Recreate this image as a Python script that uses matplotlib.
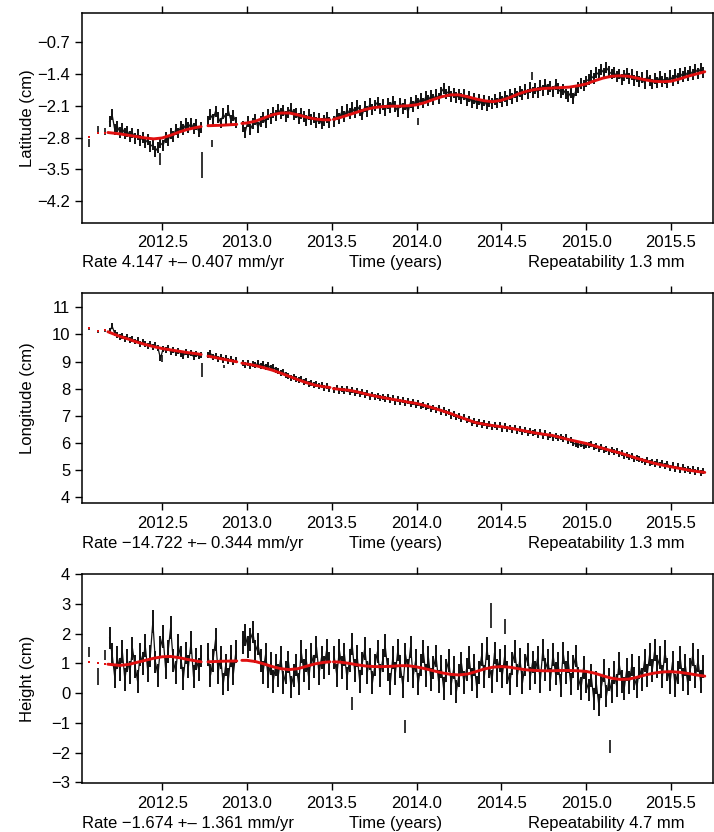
import numpy as np
import matplotlib
matplotlib.use('Agg')
import matplotlib.pyplot as plt

plt.rcParams['font.family'] = ['Liberation Sans', 'DejaVu Sans']
plt.rcParams['font.size'] = 12

# ---- daily solutions (every ~5.5 days), four data segments
STEP = 0.015
seg_start = [2012.19, 2012.77, 2012.975, 2013.515]

lat_A = [-2.45, -2.30, -2.62, -2.55, -2.68, -2.60, -2.72, -2.66, -2.78, -2.70,
         -2.82, -2.74, -2.86, -2.80, -2.92, -2.84, -3.00, -2.95, -3.10, -3.02,
         -2.92, -2.98, -2.80, -2.86, -2.72, -2.78, -2.62, -2.70, -2.55, -2.62,
         -2.50, -2.58, -2.48, -2.60, -2.52, -2.66, -2.58]
lat_B = [-2.45, -2.30, -2.40, -2.22, -2.35, -2.48, -2.28, -2.38, -2.20, -2.42, -2.32, -2.46]
lat_C = [-2.55, -2.68, -2.45, -2.62, -2.50, -2.40, -2.58, -2.44, -2.36, -2.48,
         -2.30, -2.38, -2.24, -2.32, -2.18, -2.28, -2.20, -2.34, -2.24, -2.16,
         -2.30, -2.26, -2.38, -2.28, -2.34, -2.42, -2.30, -2.40, -2.36, -2.46,
         -2.38, -2.50, -2.42, -2.36, -2.46]
lat_D = [-2.45, -2.30, -2.38, -2.22, -2.34, -2.18, -2.28, -2.14, -2.24, -2.10,
         -2.20, -2.30, -2.12, -2.22, -2.06, -2.18, -2.10, -2.02, -2.16, -2.08,
         -2.20, -2.06, -2.14, -2.00, -2.12, -2.22, -2.04, -2.16, -2.08, -2.24,
         -2.02, -2.12, -1.98, -2.06, -1.94, -2.04, -1.90, -1.98, -1.88, -1.96,
         -1.86, -1.94, -1.80, -1.72, -1.84, -1.78, -1.90, -1.82, -1.92, -1.86,
         -1.94, -1.86, -1.98, -1.90, -2.02, -1.94, -2.06, -1.96, -2.08, -1.98,
         -2.10, -2.00, -2.06, -1.96, -2.04, -1.92, -2.00, -1.90, -1.98, -1.86,
         -1.94, -1.82, -1.90, -1.78, -1.86, -1.74, -1.84, -1.70, -1.80, -1.72,
         -1.80, -1.66, -1.76, -1.62, -1.74, -1.68, -1.78, -1.64, -1.72, -1.80,
         -1.74, -1.84, -1.90, -1.80, -1.94, -1.76, -1.70, -1.60, -1.66, -1.56,
         -1.52, -1.44, -1.50, -1.36, -1.42, -1.30, -1.38, -1.26, -1.34, -1.40,
         -1.36, -1.46, -1.40, -1.52, -1.44, -1.38, -1.50, -1.42, -1.54, -1.46,
         -1.56, -1.48, -1.60, -1.44, -1.54, -1.62, -1.50, -1.58, -1.46, -1.56,
         -1.50, -1.58, -1.44, -1.54, -1.40, -1.50, -1.38, -1.46, -1.36, -1.44,
         -1.34, -1.42, -1.30, -1.38, -1.28, -1.36]

lon_A = [10.12, 10.30, 10.05, 9.98, 9.92, 9.96, 9.84, 9.90, 9.78, 9.82,
         9.74, 9.78, 9.66, 9.72, 9.64, 9.58, 9.66, 9.52, 9.60, 9.50,
         9.12, 9.46, 9.42, 9.50, 9.36, 9.44, 9.32, 9.40, 9.28, 9.22,
         9.34, 9.24, 9.30, 9.18, 9.28, 9.20, 9.24]
lon_B = [9.24, 9.30, 9.16, 9.22, 9.10, 9.18, 9.06, 9.14, 9.02, 9.10, 8.98, 9.04]
lon_C = [8.96, 8.88, 8.94, 8.84, 8.92, 8.86, 8.94, 8.82, 8.90, 8.80,
         8.86, 8.76, 8.78, 8.70, 8.64, 8.56, 8.60, 8.50, 8.46, 8.40,
         8.44, 8.34, 8.30, 8.36, 8.24, 8.28, 8.18, 8.22, 8.12, 8.16,
         8.08, 8.12, 8.02, 8.08, 8.00]
lon_D = [7.96, 8.04, 7.92, 8.00, 7.90, 7.98, 7.86, 7.94, 7.84, 7.90,
         7.80, 7.88, 7.76, 7.82, 7.70, 7.78, 7.68, 7.74, 7.64, 7.70,
         7.60, 7.68, 7.58, 7.64, 7.52, 7.62, 7.50, 7.56, 7.46, 7.54,
         7.42, 7.50, 7.38, 7.46, 7.34, 7.40, 7.30, 7.36, 7.24, 7.30,
         7.20, 7.28, 7.14, 7.20, 7.08, 7.12, 7.00, 7.06, 6.94, 6.98,
         6.88, 6.94, 6.82, 6.86, 6.74, 6.80, 6.70, 6.76, 6.64, 6.72,
         6.62, 6.70, 6.58, 6.66, 6.56, 6.64, 6.52, 6.60, 6.50, 6.56,
         6.48, 6.56, 6.44, 6.52, 6.40, 6.48, 6.36, 6.44, 6.34, 6.40,
         6.30, 6.38, 6.26, 6.34, 6.22, 6.30, 6.18, 6.26, 6.16, 6.22,
         6.14, 6.20, 6.06, 6.10, 5.98, 5.94, 5.90, 5.96, 5.86, 5.92,
         5.90, 5.96, 5.84, 5.88, 5.78, 5.84, 5.72, 5.78, 5.66, 5.72,
         5.64, 5.70, 5.58, 5.62, 5.52, 5.56, 5.46, 5.50, 5.40, 5.44,
         5.38, 5.34, 5.30, 5.36, 5.24, 5.30, 5.20, 5.28, 5.18, 5.24,
         5.14, 5.22, 5.08, 5.16, 5.04, 5.12, 5.00, 5.10, 4.98, 5.04,
         4.96, 5.02, 4.92, 4.98, 4.88, 4.94]

hgt_A = [1.85, 1.30, 0.55, 1.20, 0.80, 1.40, 0.45, 1.10, 0.70, 1.50,
         0.90, 0.40, 1.30, 1.00, 1.60, 0.75, 1.25, 2.40, 1.05, 0.60,
         1.55, 1.90, 0.85, 1.40, 2.20, 1.10, 0.70, 1.60, 1.20, 0.50,
         1.35, 0.90, 1.70, 0.55, 1.15, 0.80, 1.25]
hgt_B = [1.30, 0.60, 1.10, 1.80, 0.70, 1.20, 0.30, 0.95, 0.45, 1.25, 0.65, 1.40]
hgt_C = [1.70, 1.95, 1.55, 1.80, 2.05, 1.40, 1.65, 1.10, 0.70, 1.30,
         0.55, 1.00, 0.40, 0.95, 0.60, 1.20, 0.35, 0.70, 1.05, 0.20,
         0.60, 0.95, 0.30, 1.40, 0.75, 1.10, 0.50, 1.30, 0.90, 1.55,
         0.65, 1.20, 0.85, 1.45, 1.00]
hgt_D = [1.20, 0.60, 1.45, 0.85, 1.30, 0.50, 1.10, 1.65, 0.75, 1.25,
         0.40, 1.00, 1.50, 0.70, 1.15, 0.35, 0.95, 1.40, 0.60, 1.10,
         1.60, 0.80, 0.30, 1.20, 0.65, 1.45, 0.90, 0.20, 1.30, 0.75,
         1.55, 0.55, 1.10, 0.30, 0.95, 1.40, 0.60, 1.20, 0.45, 0.85,
         1.25, 0.40, 0.90, 0.15, 0.75, 1.10, 0.30, 0.85, 0.05, 0.60,
         1.00, 0.35, 0.80, 1.20, 0.45, 0.95, 0.20, 0.70, 1.30, 0.55,
         1.50, 0.90, 0.40, 1.35, 0.75, 1.10, 0.55, 1.25, 0.70, 0.30,
         1.00, 1.40, 0.60, 1.15, 0.35, 0.95, 1.30, 0.50, 1.05, 0.70,
         1.20, 0.40, 1.45, 0.80, 1.10, 0.45, 1.30, 0.65, 1.00, 0.25,
         1.35, 0.70, 1.05, 0.30, 0.90, 1.25, 0.50, 0.15, 0.85, 0.40,
         0.10, 0.60, -0.20, 0.35, -0.40, 0.20, 0.75, -0.10, 0.45, 0.05,
         0.70, 0.25, 1.00, 0.40, 0.15, 0.80, 0.35, 0.95, 0.50, 0.20,
         0.85, 0.45, 1.10, 0.60, 1.30, 0.75, 1.45, 0.90, 1.20, 0.55,
         1.40, 0.80, 0.35, 1.05, 0.25, 0.70, 1.20, 0.45, 0.95, 0.30,
         0.80, 1.30, 0.55, 1.10, 0.40, 0.90]

# formal errors (half length of the bars), cm
lat_sig, lon_sig, hgt_sig = 0.12, 0.11, 0.38

# isolated epochs: early points and outliers (time, value, half error)
lat_extra = [(2012.07, -2.92, 0.08), (2012.123, -2.64, 0.09), (2012.16, -2.67, 0.07),
             (2012.49, -3.27, 0.13), (2012.736, -3.40, 0.29), (2012.795, -2.93, 0.08),
             (2014.006, -2.45, 0.07), (2014.68, -1.44, 0.09)]
lon_extra = [(2012.07, 10.22, 0.05), (2012.123, 10.12, 0.05), (2012.16, 10.14, 0.05),
             (2012.50, 9.12, 0.12), (2012.736, 8.70, 0.26), (2012.862, 8.82, 0.06)]
hgt_extra = [(2012.07, 1.39, 0.17), (2012.123, 0.55, 0.28), (2012.16, 1.28, 0.17),
             (2013.617, -0.35, 0.22), (2013.935, -1.12, 0.22), (2014.44, 2.60, 0.42),
             (2014.52, 2.25, 0.25), (2015.14, -1.79, 0.21)]

# model evaluated at the early epochs (drawn as red dots)
early_t = [2012.07, 2012.123, 2012.16]
lat_early_model = [-2.79, -2.70, -2.69]
lon_early_model = [10.24, 10.13, 10.15]
hgt_early_model = [1.05, 1.02, 0.99]

# ---- fitted model (red), knots per segment
mod_t_A = [2012.18, 2012.25, 2012.30, 2012.35, 2012.40, 2012.45, 2012.50, 2012.55,
           2012.60, 2012.65, 2012.70, 2012.73]
mod_t_B = [2012.77, 2012.85, 2012.94]
mod_t_C = [2012.97, 2013.00, 2013.05, 2013.10, 2013.15, 2013.20, 2013.25, 2013.30,
           2013.35, 2013.40, 2013.45, 2013.49]
mod_t_D = [2013.51] + list(np.round(np.arange(2013.55, 2015.701, 0.05), 2))

lat_mod = [[-2.69, -2.72, -2.75, -2.78, -2.81, -2.83, -2.81, -2.75, -2.68, -2.62, -2.58, -2.56],
           [-2.54, -2.53, -2.51],
           [-2.49, -2.48, -2.44, -2.37, -2.30, -2.26, -2.26, -2.30, -2.35, -2.39, -2.41, -2.41],
           [-2.40, -2.36, -2.30, -2.24, -2.18, -2.14, -2.12, -2.11, -2.11, -2.10, -2.08,
            -2.03, -1.96, -1.90, -1.86, -1.86, -1.90, -1.95, -1.99, -2.01, -1.98,
            -1.92, -1.84, -1.78, -1.74, -1.72, -1.71, -1.70, -1.69, -1.66, -1.62,
            -1.55, -1.49, -1.45, -1.44, -1.45, -1.49, -1.53, -1.56, -1.57, -1.56,
            -1.51, -1.45, -1.40, -1.35]]
lon_mod = [[10.10, 9.93, 9.83, 9.72, 9.63, 9.55, 9.48, 9.43, 9.38, 9.33, 9.29, 9.26],
           [9.20, 9.10, 8.99],
           [8.94, 8.91, 8.85, 8.77, 8.68, 8.57, 8.45, 8.33, 8.22, 8.13, 8.07, 8.04],
           [8.00, 7.97, 7.94, 7.88, 7.80, 7.73, 7.67, 7.61, 7.56, 7.50, 7.45,
            7.37, 7.28, 7.18, 7.08, 6.96, 6.85, 6.74, 6.68, 6.63, 6.59,
            6.54, 6.48, 6.42, 6.36, 6.31, 6.27, 6.19, 6.11, 6.04, 5.97,
            5.88, 5.79, 5.70, 5.62, 5.52, 5.42, 5.33, 5.24, 5.17, 5.11,
            5.05, 4.99, 4.94, 4.90]]
hgt_mod = [[0.97, 0.93, 0.96, 1.03, 1.10, 1.17, 1.22, 1.23, 1.19, 1.13, 1.08, 1.05],
           [1.05, 1.07, 1.08],
           [1.10, 1.10, 1.06, 0.98, 0.89, 0.82, 0.79, 0.82, 0.90, 0.98, 1.03, 1.05],
           [1.05, 1.04, 1.00, 0.95, 0.91, 0.89, 0.89, 0.90, 0.92, 0.92, 0.88,
            0.82, 0.75, 0.68, 0.63, 0.61, 0.64, 0.72, 0.81, 0.87, 0.89,
            0.87, 0.82, 0.78, 0.76, 0.75, 0.75, 0.76, 0.76, 0.75, 0.73,
            0.67, 0.58, 0.50, 0.46, 0.47, 0.53, 0.61, 0.67, 0.71, 0.72,
            0.70, 0.66, 0.61, 0.57]]

xtick_vals = [2012.5, 2013.0, 2013.5, 2014.0, 2014.5, 2015.0, 2015.5]

panels = [
    dict(ylabel='Latitude (cm)', segs=[lat_A, lat_B, lat_C, lat_D], sig=lat_sig,
         extra=lat_extra, early=lat_early_model, model=lat_mod,
         ylim=(-4.684, -0.055), yticks=[-4.2, -3.5, -2.8, -2.1, -1.4, -0.7],
         rate='Rate 4.147 +\u2013 0.407 mm/yr', rep='Repeatability 1.3 mm'),
    dict(ylabel='Longitude (cm)', segs=[lon_A, lon_B, lon_C, lon_D], sig=lon_sig,
         extra=lon_extra, early=lon_early_model, model=lon_mod,
         ylim=(3.756, 11.52), yticks=[4, 5, 6, 7, 8, 9, 10, 11],
         rate='Rate \u221214.722 +\u2013 0.344 mm/yr', rep='Repeatability 1.3 mm'),
    dict(ylabel='Height (cm)', segs=[hgt_A, hgt_B, hgt_C, hgt_D], sig=hgt_sig,
         extra=hgt_extra, early=hgt_early_model, model=hgt_mod,
         ylim=(-3.03, 4.0), yticks=[-3, -2, -1, 0, 1, 2, 3, 4],
         rate='Rate \u22121.674 +\u2013 1.361 mm/yr', rep='Repeatability 4.7 mm'),
]

# axes boxes in figure fraction: left, bottom, width, height
boxes = [(0.1148, 0.732, 0.8832, 0.2524),
         (0.1148, 0.395, 0.8832, 0.2524),
         (0.1148, 0.0585, 0.8832, 0.2516)]

fig = plt.figure(figsize=(7.14, 8.32), dpi=100)

for p, box in zip(panels, boxes):
    ax = fig.add_axes(box)
    # error bars of the daily solutions, joined so the series reads as a band
    for start, vals in zip(seg_start, p['segs']):
        t = start + STEP * np.arange(len(vals))
        v = np.array(vals)
        ax.vlines(t, v - p['sig'], v + p['sig'], color='#111111', lw=1.4, zorder=2)
        ax.plot(t, v, color='#111111', lw=0.9, zorder=2)
    et, ev, ee = np.array(p['extra']).T
    ax.vlines(et, ev - ee, ev + ee, color='#111111', lw=1.2, zorder=2)
    # model curve, broken at the data gaps
    mt, mv = [], []
    for tt, vv in zip([mod_t_A, mod_t_B, mod_t_C, mod_t_D], p['model']):
        mt += list(tt) + [np.nan]
        mv += list(vv) + [np.nan]
    ax.plot(mt, mv, color='#e01010', lw=2.1, zorder=3, solid_capstyle='round')
    ax.plot(early_t, p['early'], ls='none', marker='s', ms=2.0, mew=0,
            color='#e01010', zorder=3)

    ax.set_xlim(2012.027, 2015.746)
    ax.set_ylim(*p['ylim'])
    ax.set_xticks(xtick_vals)
    ax.set_xticklabels(['%.1f' % v for v in xtick_vals])
    ax.set_yticks(p['yticks'])
    ax.tick_params(axis='x', top=True, bottom=True, labeltop=False,
                   direction='out', length=5, width=1, pad=4)
    ax.tick_params(axis='y', direction='out', length=5, width=1, pad=3.5)
    for s in ax.spines.values():
        s.set_linewidth(1.1)
    ax.set_ylabel(p['ylabel'])
    ax.yaxis.set_label_coords(-0.075, 0.5)

    ax.annotate(p['rate'], xy=(0.0, 0.0), xycoords='axes fraction',
                xytext=(0, -28.8), textcoords='offset points', ha='left', va='center')
    ax.annotate('Time (years)', xy=(0.497, 0.0), xycoords='axes fraction',
                xytext=(0, -28.8), textcoords='offset points', ha='center', va='center')
    ax.annotate(p['rep'], xy=(0.956, 0.0), xycoords='axes fraction',
                xytext=(0, -28.8), textcoords='offset points', ha='right', va='center')

fig.savefig('out.png', dpi=100)
